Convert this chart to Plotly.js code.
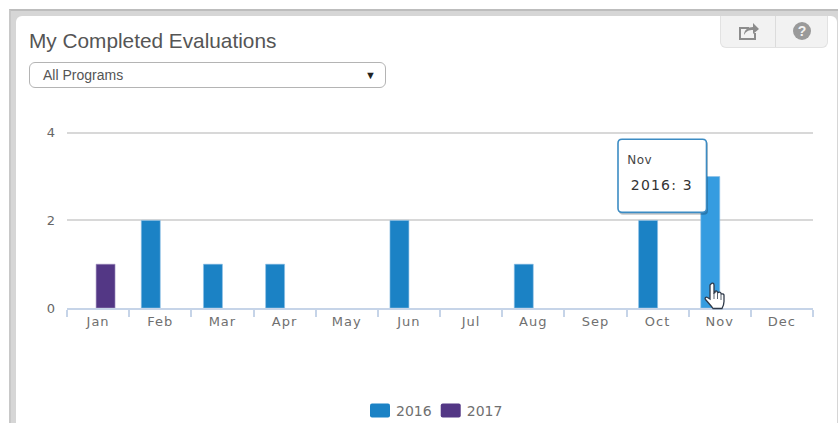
<!DOCTYPE html>
<html>
<head>
<meta charset="utf-8">
<script src="https://cdn.plot.ly/plotly-3.0.1.min.js"></script>
<style>
html,body{margin:0;padding:0;background:#fff;width:838px;height:423px;overflow:hidden;font-family:"Liberation Sans",Arial,sans-serif}
#frame{position:absolute;left:9px;top:9px;width:829px;height:414px;background:#d6d6d6;border-top:2px solid #bdbdbd;border-left:2px solid #c8c8c8;box-sizing:border-box}
#card{position:absolute;left:16px;top:16px;width:821px;height:407px;background:#fff;border-radius:6px 6px 0 0}
#chart{position:absolute;left:0;top:0;width:838px;height:423px}
#select{position:absolute;left:29px;top:62px;width:357px;height:26px;box-sizing:border-box;border:1px solid #b4b4b4;border-radius:6px;background:#fff;font-size:14px;color:#555;line-height:24px;padding-left:13px}
#select span{position:absolute;right:9px;top:0;font-size:11px;color:#222}
#tools{position:absolute;left:720px;top:16px;width:108px;height:32px;box-sizing:border-box;background:#f2f2f2;border:1px solid #e2e2e2;border-top:none;border-radius:0 0 6px 6px}
#tools i{position:absolute;left:54px;top:0;width:1px;height:31px;background:#dcdcdc}
#tools svg{position:absolute}
#hand{position:absolute;left:704px;top:282px}
.xtick text{letter-spacing:1px}
.annotation[data-index="0"] text{letter-spacing:.5px}
.annotation[data-index="1"] text{letter-spacing:1.2px}
</style>
</head>
<body>
<div id="frame"></div>
<div id="card"></div>
<div id="chart"></div>
<div id="select">All Programs<span>&#9660;</span></div>
<div id="tools"><i></i>
<svg style="left:17px;top:5px" width="22" height="20" viewBox="0 0 22 20"><path d="M1 6h10v2H3v9h13v-5h2v7H1z" fill="#8c8c8c"/><path d="M6 14c0-5 4-8 9-8V2l6 6-6 5V9c-4 0-7 1-9 5z" fill="#8c8c8c"/></svg>
<svg style="left:72px;top:6px" width="18" height="18" viewBox="0 0 18 18"><circle cx="9" cy="9" r="9" fill="#9a9a9a"/><text x="9" y="14" font-size="14" font-weight="bold" text-anchor="middle" fill="#f2f2f2" font-family="Liberation Sans">?</text></svg>
</div>
<svg id="hand" width="22" height="30" viewBox="0 0 22 30"><path d="M7 2c1-1.500 3-1 3 1v8l1-.5 0-1c1-1 2.500-.5 2.500.8l1 .2c1-.8 2.500-.2 2.500 1l1 .5c1-.5 2 .3 2 1.500v6c0 3-1 5-2 7H9c-2-3-5-6-7.500-9-1-1.500.5-3 2-2L6 17V3z" fill="#fff" stroke="#2f3a4a" stroke-width="1.300"/><path d="M10 11v6M13.500 11v6M17 12v6" stroke="#2f3a4a" stroke-width=".8"/></svg>
<script>
var months = ['Jan','Feb','Mar','Apr','May','Jun','Jul','Aug','Sep','Oct','Nov','Dec'];
var values2016 = [0,2,1,1,0,2,0,1,0,2,3,0];
var values2017 = [1,0,0,0,0,0,0,0,0,0,0,0];
var yTicks = [0,2,4];
var tooltipMonth = 'Nov';
var tooltipText = '2016: 3';
var blue = '#1b82c5', hoverBlue = '#359ce0', purple = '#533785';

var yMax = 4.04;
var W = 838, H = 423, L = 67, R = 813, B = 308, T = B - 43.75 * yMax;
function px(x){ return (x - L) / (R - L); }
function py(y){ return (B - y) / (B - T); }
function edgeWidths(vals){ return vals.map(function(v){ return v ? 0.6 : 0; }); }
function roundRect(x0, y0, x1, y1, r){
  function p(x, y){ return px(x) + ',' + py(y); }
  var k = r * 0.3;
  return 'M' + p(x0 + r, y0) + ' L' + p(x1 - r, y0) + ' C' + p(x1 - k, y0) + ' ' + p(x1, y0 + k) + ' ' + p(x1, y0 + r) +
         ' L' + p(x1, y1 - r) + ' C' + p(x1, y1 - k) + ' ' + p(x1 - k, y1) + ' ' + p(x1 - r, y1) +
         ' L' + p(x0 + r, y1) + ' C' + p(x0 + k, y1) + ' ' + p(x0, y1 - k) + ' ' + p(x0, y1 - r) +
         ' L' + p(x0, y0 + r) + ' C' + p(x0, y0 + k) + ' ' + p(x0 + k, y0) + ' ' + p(x0 + r, y0) + ' Z';
}
var traces = [
  {type:'bar', name:'2016', x:months, y:values2016, hoverinfo:'none', offset:-0.305, width:0.305,
   marker:{color:months.map(function(m){ return m === tooltipMonth ? hoverBlue : blue; }), line:{color:'#8dc0e6', width:edgeWidths(values2016)}}},
  {type:'bar', name:'2017', x:months, y:values2017, hoverinfo:'none', offset:-0.032, width:0.305,
   marker:{color:purple, line:{color:'#a79bc4', width:edgeWidths(values2017)}}}
];
var layout = {
  width:W, height:H, autosize:false,
  margin:{l:L, r:W-R, t:T, b:H-B, pad:0},
  paper_bgcolor:'rgba(0,0,0,0)', plot_bgcolor:'rgba(0,0,0,0)',
  barmode:'group', bargap:0.39, bargroupgap:0,
  title:{text:'My Completed Evaluations', x:29/W, xanchor:'left', xref:'container', y:1-41/H, yanchor:'middle', yref:'container',
         font:{family:'Liberation Sans, Arial, sans-serif', size:20.8, color:'#555555'}},
  xaxis:{type:'category', categoryorder:'array', categoryarray:months, range:[-0.5,11.5], fixedrange:true,
         tickson:'boundaries', ticks:'outside', ticklen:7, tickwidth:1.5, tickcolor:'#c6d4e8',
         showline:true, linecolor:'#c6d4e8', linewidth:2, showgrid:false, zeroline:false,
         tickfont:{family:'DejaVu Sans, sans-serif', size:13, color:'#707070'}},
  yaxis:{range:[0,yMax], tickmode:'array', tickvals:yTicks, ticktext:yTicks.map(String), fixedrange:true,
         showgrid:true, gridcolor:'#d8d8d8', gridwidth:1.5, zeroline:false, showline:false, ticks:'', ticklabelstandoff:11,
         tickfont:{family:'DejaVu Sans, sans-serif', size:13, color:'#666666'}},
  showlegend:true,
  legend:{orientation:'h', xref:'container', yref:'container', x:437/W, xanchor:'center', y:1-411/H, yanchor:'middle',
          font:{family:'DejaVu Sans, sans-serif', size:14, color:'#707070'}, bgcolor:'rgba(0,0,0,0)', itemclick:false, itemdoubleclick:false},
  shapes:[
    {type:'path', xref:'paper', yref:'paper', layer:'above', path:roundRect(619,141,708,215,4), fillcolor:'rgba(0,0,0,0.22)', line:{width:0}},
    {type:'path', xref:'paper', yref:'paper', layer:'above', path:roundRect(618,139.500,706.500,212.500,4), fillcolor:'#ffffff', line:{color:'#3c8cc4', width:1.6}}
  ],
  annotations:[
    {xref:'paper', yref:'paper', x:px(626), y:py(160), xanchor:'left', yanchor:'middle', showarrow:false, text:tooltipMonth, font:{family:'DejaVu Sans, sans-serif', size:12, color:'#444444'}},
    {xref:'paper', yref:'paper', x:px(633), y:py(185.500), xanchor:'left', yanchor:'middle', showarrow:false, text:tooltipText, font:{family:'DejaVu Sans, sans-serif', size:14, color:'#333333'}}
  ]
};
Plotly.newPlot('chart', traces, layout, {displayModeBar:false}).then(function(){
  document.querySelectorAll('.legend .traces').forEach(function(g, i){
    var path = g.querySelector('.legendpoints path');
    if (path) {
      path.setAttribute('d','M-8,-7H8Q10,-7 10,-5V5Q10,7 8,7H-8Q-10,7 -10,5V-5Q-10,-7 -8,-7Z');
      path.style.strokeWidth = '0';
      var t = path.getAttribute('transform') || '';
      path.setAttribute('transform', 'translate(4,0) ' + t);
    }
    if (i === 1) {
      var m = /translate\(([-\d.]+),\s*([-\d.]+)\)/.exec(g.getAttribute('transform'));
      if (m) g.setAttribute('transform', 'translate(' + (parseFloat(m[1]) - 10) + ',' + m[2] + ')');
    }
  });
});
</script>
</body>
</html>
